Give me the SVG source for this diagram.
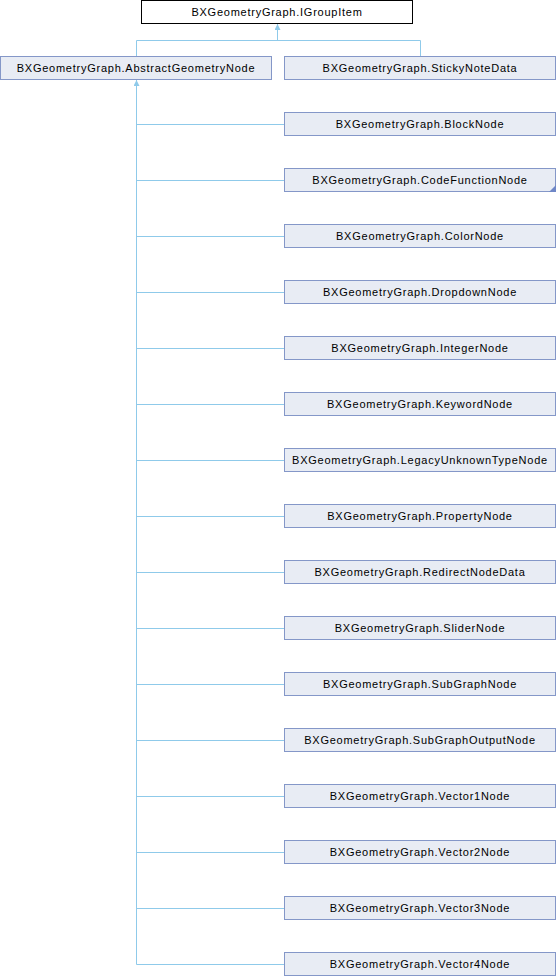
<svg xmlns="http://www.w3.org/2000/svg" width="556" height="976" viewBox="0 0 556 976">
<style>
.n rect{fill:#E8ECF4;stroke:#8497C8;stroke-width:1}
.top rect{fill:#FFFFFF;stroke:#000000;stroke-width:1}
text{font-family:"Liberation Sans",Arial,Helvetica,sans-serif;font-size:11px;letter-spacing:0.75px;text-anchor:middle;fill:#000000}
.c path{fill:none;stroke:#8FCAEA;stroke-width:1}
.corner{fill:#6F87C7}
</style>
<defs>
<marker id="ah" viewBox="0 0 6 6" refX="6" refY="3" markerWidth="6" markerHeight="6" markerUnits="userSpaceOnUse" orient="auto">
<path d="M0,0 L6,3 L0,6 z" fill="#8FCAEA"/>
</marker>
</defs>
<g class="c" id="connectors">
<path d="M277.5,40.5 L277.5,24" marker-end="url(#ah)"/>
<path d="M136.5,56 L136.5,40.5 L420.5,40.5 L420.5,56"/>
<path d="M136.5,964.5 L136.5,80" marker-end="url(#ah)"/>
<path d="M136.5,124.5 H284"/>
<path d="M136.5,180.5 H284"/>
<path d="M136.5,236.5 H284"/>
<path d="M136.5,292.5 H284"/>
<path d="M136.5,348.5 H284"/>
<path d="M136.5,404.5 H284"/>
<path d="M136.5,460.5 H284"/>
<path d="M136.5,516.5 H284"/>
<path d="M136.5,572.5 H284"/>
<path d="M136.5,628.5 H284"/>
<path d="M136.5,684.5 H284"/>
<path d="M136.5,740.5 H284"/>
<path d="M136.5,796.5 H284"/>
<path d="M136.5,852.5 H284"/>
<path d="M136.5,908.5 H284"/>
<path d="M136.5,964.5 H284"/>
</g>
<g class="top" id="IGroupItem"><rect x="141.5" y="0.5" width="271" height="23"/><text x="277" y="16">BXGeometryGraph.IGroupItem</text></g>
<g class="n" id="AbstractGeometryNode"><rect x="0.5" y="56.5" width="271" height="23"/><text x="136" y="72">BXGeometryGraph.AbstractGeometryNode</text></g>
<g class="n" id="StickyNoteData"><rect x="284.5" y="56.5" width="271" height="23"/><text x="420" y="72">BXGeometryGraph.StickyNoteData</text></g>
<g class="n" id="BlockNode"><rect x="284.5" y="112.5" width="271" height="23"/><text x="420" y="128">BXGeometryGraph.BlockNode</text></g>
<g class="n" id="CodeFunctionNode"><rect x="284.5" y="168.5" width="271" height="23"/><text x="420" y="184">BXGeometryGraph.CodeFunctionNode</text><polygon class="corner" points="556,185 556,192 549,192"/></g>
<g class="n" id="ColorNode"><rect x="284.5" y="224.5" width="271" height="23"/><text x="420" y="240">BXGeometryGraph.ColorNode</text></g>
<g class="n" id="DropdownNode"><rect x="284.5" y="280.5" width="271" height="23"/><text x="420" y="296">BXGeometryGraph.DropdownNode</text></g>
<g class="n" id="IntegerNode"><rect x="284.5" y="336.5" width="271" height="23"/><text x="420" y="352">BXGeometryGraph.IntegerNode</text></g>
<g class="n" id="KeywordNode"><rect x="284.5" y="392.5" width="271" height="23"/><text x="420" y="408">BXGeometryGraph.KeywordNode</text></g>
<g class="n" id="LegacyUnknownTypeNode"><rect x="284.5" y="448.5" width="271" height="23"/><text x="420" y="464">BXGeometryGraph.LegacyUnknownTypeNode</text></g>
<g class="n" id="PropertyNode"><rect x="284.5" y="504.5" width="271" height="23"/><text x="420" y="520">BXGeometryGraph.PropertyNode</text></g>
<g class="n" id="RedirectNodeData"><rect x="284.5" y="560.5" width="271" height="23"/><text x="420" y="576">BXGeometryGraph.RedirectNodeData</text></g>
<g class="n" id="SliderNode"><rect x="284.5" y="616.5" width="271" height="23"/><text x="420" y="632">BXGeometryGraph.SliderNode</text></g>
<g class="n" id="SubGraphNode"><rect x="284.5" y="672.5" width="271" height="23"/><text x="420" y="688">BXGeometryGraph.SubGraphNode</text></g>
<g class="n" id="SubGraphOutputNode"><rect x="284.5" y="728.5" width="271" height="23"/><text x="420" y="744">BXGeometryGraph.SubGraphOutputNode</text></g>
<g class="n" id="Vector1Node"><rect x="284.5" y="784.5" width="271" height="23"/><text x="420" y="800">BXGeometryGraph.Vector1Node</text></g>
<g class="n" id="Vector2Node"><rect x="284.5" y="840.5" width="271" height="23"/><text x="420" y="856">BXGeometryGraph.Vector2Node</text></g>
<g class="n" id="Vector3Node"><rect x="284.5" y="896.5" width="271" height="23"/><text x="420" y="912">BXGeometryGraph.Vector3Node</text></g>
<g class="n" id="Vector4Node"><rect x="284.5" y="952.5" width="271" height="23"/><text x="420" y="968">BXGeometryGraph.Vector4Node</text></g>
</svg>
